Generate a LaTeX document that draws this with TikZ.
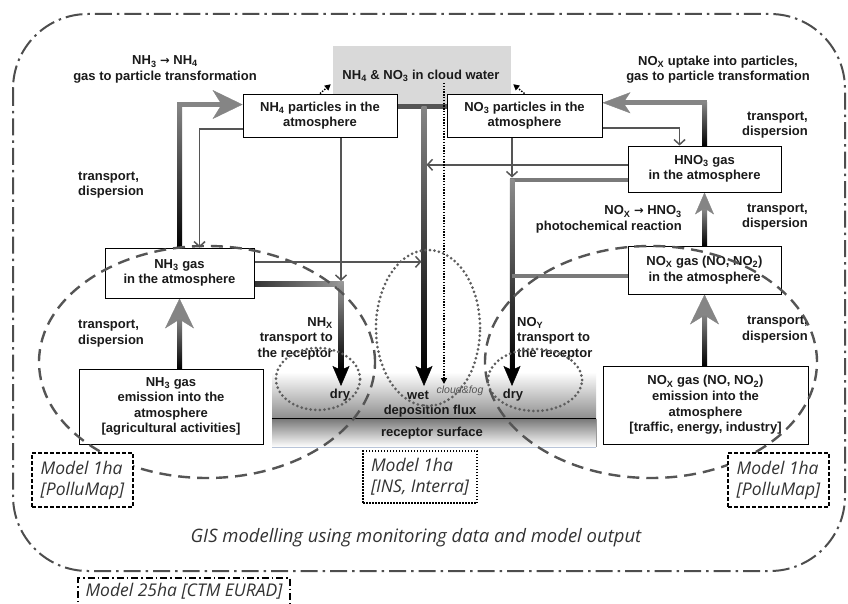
\documentclass[tikz,border=0pt]{standalone}
\usepackage{fontspec}
\setmainfont{Liberation Sans}
\newfontfamily\osfont{Open Sans}
\newfontfamily\djv{DejaVu Sans}
\usetikzlibrary{arrows.meta,calc}
\pgfdeclarelayer{back}
\pgfdeclarelayer{bg}
\pgfsetlayers{back,bg,main}
\definecolor{txt}{HTML}{1A1A1A}
\definecolor{gA}{HTML}{858585}
\definecolor{gB}{HTML}{555555}
\definecolor{gC}{HTML}{333333}
\definecolor{gD}{HTML}{999999}
\definecolor{gE}{HTML}{4D4D4D}
\definecolor{gF}{HTML}{D9D9D9}
\definecolor{gG}{HTML}{7A7A7A}
\definecolor{gH}{HTML}{8C8C8C}
\definecolor{gI}{HTML}{5E5E5E}
\definecolor{bl}{HTML}{B8C4D8}
\newcommand\bxf{\fontsize{13}{15.6}\selectfont\bfseries}
\newcommand\mdlf{\osfont\itshape\fontsize{17.5}{21}\selectfont}
\newcommand\gisf{\osfont\itshape\fontsize{18.5}{22}\selectfont}
\newcommand\sbx[1]{\textsubscript{#1}}
\newcommand\rarr{{\djv\bfseries\fontsize{11.5}{12}\selectfont →}}
\begin{document}
\begin{tikzpicture}[x=1pt,y=-1pt,
  box/.style={draw=black, line width=0.9pt, fill=white, align=center, font=\bxf, text=txt, inner sep=2pt},
  lbl/.style={font=\bxf, text=txt, inner sep=0pt},
  thinarr/.style={draw=gB, line width=1.5pt, -{Straight Barb[length=5pt,width=11pt,line width=1.5pt]}},
  bighead/.style={-{Stealth[length=30pt,width=29pt,inset=9pt,line width=0.4pt]}},
  midhead/.style={-{Stealth[length=28pt,width=21pt,inset=7pt,line width=0.4pt]}},
  smlhead/.style={-{Stealth[length=22pt,width=19pt,inset=6pt,line width=0.4pt]}},
  blkhead/.style={-{Stealth[length=20pt,width=17pt,inset=4pt,line width=0.4pt,color=black]}},
  outerline/.style={draw=gE, line width=2pt, dash pattern=on 17pt off 5pt on 2.5pt off 5pt},
  dashell/.style={draw=gB, line width=2.4pt, dash pattern=on 12pt off 7pt},
  dotell/.style={draw=gI, line width=3pt, line cap=round, dash pattern=on 0pt off 4.6pt},
  mdlbox/.style={draw=black, line width=1.4pt, font=\mdlf, text=gC, align=left, inner sep=0pt},
  dotarr/.style={draw=black, line width=1.4pt, dash pattern=on 1.4pt off 1.4pt, -{Triangle[length=6pt,width=6pt]}},
]
\useasboundingbox (0,0) rectangle (848,604);
\begin{pgfonlayer}{back}
\fill[white] (0,0) rectangle (848,604);
\node[fill=gF, minimum width=178pt, minimum height=62pt, inner sep=0pt] (cloud) at (422,77) {};
\node[top color=white, bottom color=gH, minimum width=324pt, minimum height=47pt, inner sep=0pt] (depoarea) at (434,395.5) {};
\node[top color=gG, bottom color=white, minimum width=324pt, minimum height=28pt, inner sep=0pt] (recarea) at (434,433) {};
\draw[black, line width=0.8pt] (recarea.north west) -- (recarea.north east);
\draw[gD, line width=0.6pt] (recarea.north east) -- (recarea.south east);
\draw[bl, line width=0.8pt] (recarea.south east) -- (recarea.south west);
\end{pgfonlayer}

\draw[outerline, rounded corners=75pt] (13,14) rectangle (845,571);

% boxes
\node[box, minimum width=154pt, minimum height=43pt] (nh4p) at (320,115.5) {NH\sbx{4} particles in the\\atmosphere};
\node[box, minimum width=155pt, minimum height=43pt] (no3p) at (524.5,115.5) {NO\sbx{3} particles in the\\atmosphere};
\node[box, minimum width=153pt, minimum height=46pt] (hno3) at (704.5,169) {HNO\sbx{3} gas\\in the atmosphere};
\node[box, minimum width=153pt, minimum height=48pt] (noxg) at (704.5,270) {NO\sbx{X} gas (NO, NO\sbx{2})\\in the atmosphere};
\node[box, minimum width=149pt, minimum height=50pt] (nh3g) at (179.5,273) {NH\sbx{3} gas\\in the atmosphere};
\node[box, minimum width=184pt, minimum height=75pt] (nh3e) at (171,406.5) {NH\sbx{3} gas\\emission into the\\atmosphere\\{[agricultural activities]}};
\node[box, minimum width=205pt, minimum height=78pt] (noxe) at (705.5,405) {NO\sbx{X} gas (NO, NO\sbx{2})\\emission into the\\atmosphere\\{[traffic, energy, industry]}};

\node[lbl] (cloudtxt) at (421,76) {NH\sbx{4} \& NO\sbx{3} in cloud water};

% coordinates
\coordinate (wetTop) at (424,107);
\coordinate (wetTip) at (424,386);
\coordinate (nhxc) at (341,284);
\coordinate (dryLtip) at (341,386);
\coordinate (noyc) at (512,180);
\coordinate (dryRtip) at (512,386);
\coordinate (cf0) at (444,83);
\coordinate (cfTip) at (444,384);

\begin{pgfonlayer}{bg}
% A: NH3 gas -> NH4 particles
\coordinate (aEnd) at ($(nh4p.north west)!0.25!(nh4p.south west)$);
\draw[gA, line width=5pt, bighead] (nh3g.north) |- (aEnd);
\shade[top color=gA, bottom color=black] ($(nh3g.north)+(-2.5,0)$) rectangle ($(nh3g.north |- aEnd)+(2.5,0)$);
% B: NH3 emission -> NH3 gas
\coordinate (bStart) at (nh3e.north -| nh3g.south);
\draw[gA, line width=5pt, bighead] (bStart) -- (nh3g.south);
\shade[top color=gA, bottom color=black] ($(bStart)+(-2.5,0)$) rectangle ($(nh3g.south)+(2.5,20)$);
% C: NOx emission -> NOx gas
\coordinate (cStart) at (noxe.north -| noxg.south);
\draw[gA, line width=5pt, bighead] (cStart) -- (noxg.south);
\shade[top color=gA, bottom color=black] ($(cStart)+(-2.5,0)$) rectangle ($(noxg.south)+(2.5,20)$);
% D: NOx gas -> HNO3
\draw[gA, line width=5pt, smlhead] (noxg.north) -- (hno3.south);
\shade[top color=gA, bottom color=black] ($(noxg.north)+(-2.5,0)$) rectangle ($(hno3.south)+(2.5,17)$);
% E: HNO3 -> NO3 particles
\coordinate (eEnd) at ($(no3p.north east)!0.21!(no3p.south east)$);
\draw[gA, line width=5pt, midhead] (hno3.north) |- (eEnd);
\shade[top color=gA, bottom color=black] ($(hno3.north)+(-2.5,0)$) rectangle ($(hno3.north |- eEnd)+(2.5,0)$);
% F: NH3 gas -> dry
\draw[gD, line width=5pt, blkhead] (nh3g.east |- nhxc) -- (nhxc) -- (dryLtip);
\shade[left color=gC, right color=gD] ($(nh3g.east |- nhxc)+(0,-2.5)$) rectangle ($(nhxc)+(2.5,2.5)$);
\shade[top color=gD, bottom color=black] ($(nhxc)+(-2.5,-2.5)$) rectangle ($(dryLtip)+(2.5,-16)$);
% G: cloud water -> wet
\draw[gB, line width=5pt] (nh4p.east |- wetTop) -- (no3p.west |- wetTop);
\draw[gA, line width=5pt, blkhead] (wetTop) -- (wetTip);
\shade[top color=gA, bottom color=black] ($(wetTop)+(-2.5,0)$) rectangle ($(wetTip)+(2.5,-16)$);
% N: HNO3 -> dry
\draw[gG, line width=4.5pt, blkhead] (hno3.west |- noyc) -- (noyc) -- (dryRtip);
\shade[top color=gH, bottom color=black] ($(noyc)+(-2.25,0)$) rectangle ($(dryRtip)+(2.25,-16)$);
% O: NOx gas -> NOy line
\coordinate (oStart) at ($(noxg.north west)!0.625!(noxg.south west)$);
\draw[gG, line width=4pt] (oStart) -- (noyc |- oStart);
% thin arrows
\coordinate (hS) at ($(nh4p.north west)!0.81!(nh4p.south west)$);
\draw[thinarr] (hS) -| ($(nh3g.north west)+(95,0)$);
\coordinate (iS) at ($(nh3g.north east)!0.28!(nh3g.south east)$);
\draw[thinarr, shorten >=2.5pt] (iS) -- (wetTop |- iS);
\draw[thinarr] (nh4p.south -| nhxc) -- ($(nhxc)+(0,-3)$);
\coordinate (kS) at ($(no3p.north east)!0.79!(no3p.south east)$);
\draw[thinarr] (kS) -| ($(hno3.north west)+(52,0)$);
\coordinate (lS) at ($(hno3.north west)!0.41!(hno3.south west)$);
\draw[thinarr, shorten >=2.5pt] (lS) -- (wetTop |- lS);
\draw[thinarr] (no3p.south -| noyc) -- ($(noyc)+(0,-2.5)$);
% dotted arrows
\draw[dotarr] (cf0) -- (cfTip);
\draw[dotarr] (nh4p.north) -- ($(cloud.south west)+(-2,-24)$);
\draw[dotarr] (no3p.north) -- ($(cloud.south east)+(2,-24)$);
\end{pgfonlayer}

% labels
\node[lbl, align=center] (lblA) at (165,69.5) {NH\sbx{3} \rarr{} NH\sbx{4}\\gas to particle transformation};
\node[lbl, align=left, anchor=west] (tdA) at (78,185) {transport,\\dispersion};
\node[lbl, align=left, anchor=west] (tdB) at (78,333.5) {transport,\\dispersion};
\node[lbl, align=right, anchor=east] (nhx) at (333,338.5) {NH\sbx{X}\\transport to\\the receptor};
\node[lbl, align=left, anchor=west] (noy) at (517,338.5) {NO\sbx{Y}\\transport to\\the receptor};
\node[lbl, align=center] (lblB) at (718,69.5) {NO\sbx{X} uptake into particles,\\gas to particle transformation};
\node[lbl, align=right, anchor=east] (tdC) at (808,125) {transport,\\dispersion};
\node[lbl, align=right, anchor=east] (photo) at (682,219.5) {NO\sbx{X} \rarr{} HNO\sbx{3}\\photochemical reaction};
\node[lbl, align=right, anchor=east] (tdD) at (808,217) {transport,\\dispersion};
\node[lbl, align=right, anchor=east] (tdE) at (808,329.5) {transport,\\dispersion};

\node[lbl] (dryL) at (340,395) {dry};
\node[lbl] (wet) at (418,395) {wet};
\node[font=\itshape\fontsize{10.5}{12}\selectfont, text=gB, inner sep=0pt] (cfog) at (460,391) {cloud\&fog};
\node[lbl] (dryR) at (513,395) {dry};
\node[lbl] (depo) at (430,411) {deposition flux};
\node[lbl] (recep) at (432,433) {receptor surface};

% ellipses
\draw[dotell] (318,379) ellipse [x radius=42pt, y radius=31pt];
\draw[dotell] (428,328) ellipse [x radius=52pt, y radius=78pt];
\draw[dotell] (535,380) ellipse [x radius=47pt, y radius=31pt];
\draw[dashell] (207,362) ellipse [x radius=168pt, y radius=116pt];
\draw[dashell] (651,362) ellipse [x radius=166pt, y radius=116pt];

% model boxes
\node[mdlbox, fill=white, dash pattern=on 4pt off 2pt, minimum width=101pt, minimum height=54pt] (m1) at (82.5,480) {Model 1ha\\{[PolluMap]}};
\node[mdlbox, fill=white, dash pattern=on 1.5pt off 1.5pt, minimum width=114pt, minimum height=52pt] (m2) at (420,477) {Model 1ha\\{[INS, Interra]}};
\node[mdlbox, fill=white, dash pattern=on 4pt off 2pt, minimum width=101pt, minimum height=54pt] (m3) at (778.5,480) {Model 1ha\\{[PolluMap]}};
\node[font=\gisf, text=gC, inner sep=0pt] (gis) at (416,538) {GIS modelling using monitoring data and model output};
\draw[black, line width=1.4pt, dash pattern=on 7pt off 3pt on 1.5pt off 3pt] (78,612) |- (290,578) -- (290,612);
\node[font=\mdlf, text=gC, inner sep=0pt] (m25) at (184,591) {Model 25ha [CTM EURAD]};
\end{tikzpicture}
\end{document}
